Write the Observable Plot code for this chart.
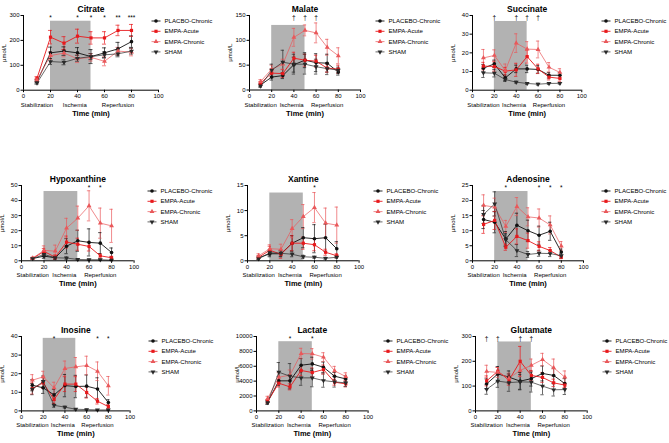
<!DOCTYPE html>
<html><head><meta charset="utf-8">
<script src="https://cdn.jsdelivr.net/npm/d3@7"></script>
<script src="https://cdn.jsdelivr.net/npm/@observablehq/plot@0.6"></script>
<style>
body{margin:0;background:#fff;font-family:"Liberation Sans",Arial,sans-serif;}
#wrap{position:relative;width:669px;height:443px;overflow:hidden;background:#fff;}
.panel{position:absolute;}
.legend{position:absolute;}
</style></head><body><div id="wrap"></div>
<script>
// ---------- shared categories / ticks ----------
const times = [10, 20, 30, 40, 50, 60, 70, 80];
const seriesNames = ["PLACEBO-Chronic", "EMPA-Acute", "EMPA-Chronic", "SHAM"];
const citrateLegendLabels = ["PLACBO-Chronic", "EMPA-Acute", "EMPA-Chronic", "SHAM"];
const xTicks = [0, 20, 40, 60, 80, 100];
const phaseLabels = ["Stabilization", "Ischemia", "Reperfusion"];
const phaseCenters = [10, 38, 70];
const ischemiaWindow = [20, 50];

// ---------- values (rows: PLACEBO-Chronic, EMPA-Acute, EMPA-Chronic, SHAM) ----------
const citrateMeans = [
  [35, 150, 157, 150, 135, 150, 166, 195],
  [48, 213, 189, 217, 210, 210, 240, 240],
  [41, 139, 149, 126, 132, 116, 157, 153],
  [29, 115, 112, 128, 135, 142, 146, 157]];
const citrateErr = [
  [6, 23, 17, 21, 28, 20, 26, 23],
  [6, 27, 26, 28, 25, 25, 21, 24],
  [5, 15, 15, 15, 15, 18, 15, 15],
  [5, 12, 10, 12, 12, 12, 12, 12]];
const citrateYTicks = [0, 100, 200, 300];
const citrateSig = [[20, "*"], [40, "*"], [50, "*"], [60, "*"], [70, "**"], [80, "***"]];

const malateMeans = [
  [10, 26, 29, 51, 60, 55, 54, 36],
  [14, 34, 33, 64, 60, 58, 44, 42],
  [17, 42, 52, 106, 120, 115, 86, 69],
  [8, 40, 56, 52, 52, 47, 43, 40]];
const malateErr = [
  [3, 6, 6, 15, 15, 18, 18, 6],
  [3, 8, 8, 12, 12, 12, 8, 8],
  [4, 8, 10, 18, 11, 20, 16, 16],
  [3, 12, 24, 20, 20, 15, 12, 6]];
const malateYTicks = [0, 50, 100, 150];
const malateSig = [[40, "†"], [50, "†"], [60, "†"]];

const succinateMeans = [
  [11.8, 14.1, 6.6, 11.4, 11.4, 11.1, 8, 8],
  [12.9, 12.7, 10.2, 10.9, 18, 11.4, 7, 6.3],
  [17.3, 18.6, 10.5, 25.2, 22, 21.8, 12.3, 9.5],
  [9.3, 9.1, 5.7, 4.3, 3.6, 3.2, 3.6, 3.7]];
const succinateErr = [
  [2, 2, 1.5, 2, 2, 2, 1.5, 1.5],
  [2, 2.5, 2, 3.5, 3.5, 2.5, 1.5, 1.5],
  [4.5, 3, 3.5, 5, 4, 4.5, 2.5, 2],
  [2.5, 2, 1, 0.5, 0.5, 0.5, 0.5, 0.5]];
const succinateYTicks = [0, 10, 20, 30, 40];
const succinateSig = [[20, "†"], [40, "†"], [50, "†"], [60, "†"]];

const hypoxanthineMeans = [
  [1.5, 3.1, 2, 9.7, 13.3, 12.2, 11.7, 5.5],
  [1.6, 6.2, 2.4, 12.4, 11, 9.5, 3.3, 2],
  [1.8, 6.9, 6.4, 21.7, 28.3, 36.5, 25, 23.2],
  [1.5, 4.2, 2, 1.8, 0.9, 0.7, 0.7, 0.4]];
const hypoxanthineErr = [
  [0.5, 1.5, 1, 5, 7, 9, 7, 3],
  [0.5, 2, 1.5, 4, 4, 3, 1.5, 1],
  [0.5, 3, 4, 6.5, 8, 10, 10, 11],
  [0.3, 1.5, 0.8, 0.8, 0.4, 0.3, 0.3, 0.2]];
const hypoxanthineYTicks = [0, 10, 20, 30, 40, 50];
const hypoxanthineSig = [[60, "*"], [70, "*"]];

const xantineMeans = [
  [0.6, 1.4, 1.4, 3.5, 4.6, 4.4, 4.6, 2.4],
  [0.7, 2.1, 1.3, 3.5, 3.5, 3.2, 1.7, 1.0],
  [1.0, 2.4, 2.3, 6.4, 8.8, 10.6, 7.5, 7.1],
  [0.4, 1.6, 1.5, 1.3, 0.8, 0.7, 0.5, 0.7]];
const xantineErr = [
  [0.3, 0.6, 0.6, 1.5, 2, 2.8, 2.7, 1.4],
  [0.3, 0.8, 0.8, 1.5, 1.2, 1.2, 0.6, 0.4],
  [0.4, 0.8, 1, 1.8, 2.4, 3, 3, 3.6],
  [0.2, 0.6, 0.6, 0.5, 0.3, 0.2, 0.2, 0.2]];
const xantineYTicks = [0, 5, 10, 15];
const xantineSig = [[60, "*"]];

const adenosineMeans = [
  [13.7, 12.8, 7.2, 11.8, 10.0, 8.5, 9.8, 2.9],
  [12.1, 13.4, 4.5, 8.1, 6.7, 4.8, 3.4, 1.2],
  [18.4, 17.8, 11.4, 18.0, 14.6, 14.2, 11.9, 4.9],
  [15.4, 18.9, 7.0, 3.4, 2.1, 2.5, 2.4, 1.7]];
const adenosineErr = [
  [3, 3.5, 2.5, 4, 3.5, 3, 3, 1],
  [3, 3, 1, 2.5, 2.5, 1.5, 1, 0.5],
  [3.5, 3, 2, 3, 3, 3, 3, 1.5],
  [3, 4, 2, 2, 1, 1, 1, 0.8]];
const adenosineYTicks = [0, 5, 10, 15, 20, 25];
const adenosineSig = [[30, "*"], [60, "*"], [70, "*"], [80, "*"]];

const inosineMeans = [
  [13.8, 12.4, 8.6, 13.6, 13.1, 13.3, 11.8, 4.5],
  [12, 15.1, 6.1, 14.4, 14.4, 9.9, 5.2, 2.3],
  [16.5, 18.3, 12.4, 22.8, 23.7, 24.4, 21.3, 13.5],
  [11.7, 15.8, 3.0, 2.0, 0.9, 0.7, 0.5, 0.5]];
const inosineErr = [
  [3, 3, 3, 6, 6, 6, 6, 1.5],
  [3, 3, 2, 4, 4, 3, 1.5, 1],
  [3, 3, 3, 4, 5, 5, 5, 5],
  [3, 3, 1, 0.5, 0.3, 0.2, 0.2, 0.2]];
const inosineYTicks = [0, 10, 20, 30, 40];
const inosineSig = [[30, "*"], [70, "*"], [80, "*"]];

const lactateMeans = [
  [1170, 4040, 4040, 6140, 6320, 5870, 4660, 4300],
  [1300, 3720, 3230, 5430, 5160, 5560, 3860, 3630],
  [1660, 4530, 4800, 7710, 7670, 7220, 5380, 4620],
  [1120, 5200, 4660, 4440, 4440, 4080, 3900, 3770]];
const lactateErr = [
  [250, 600, 800, 900, 900, 700, 500, 400],
  [250, 500, 400, 700, 600, 600, 400, 400],
  [300, 600, 700, 700, 700, 600, 600, 500],
  [250, 1300, 1700, 1000, 1200, 900, 700, 500]];
const lactateYTicks = [0, 2000, 4000, 6000, 8000, 10000];
const lactateSig = [[30, "*"], [50, "*"]];

const glutamateMeans = [
  [109, 149, 136, 120, 130, 151, 143, 110],
  [121, 160, 124, 200, 143, 135, 113, 104],
  [159, 155, 132, 163, 184, 207, 174, 136],
  [87, 120, 114, 117, 116, 100, 85, 86]];
const glutamateErr = [
  [20, 30, 25, 35, 30, 30, 30, 20],
  [20, 15, 20, 60, 20, 20, 15, 10],
  [25, 20, 20, 25, 25, 25, 35, 25],
  [20, 25, 35, 30, 40, 35, 25, 20]];
const glutamateYTicks = [0, 100, 200, 300];
const glutamateSig = [[10, "†"], [20, "†"], [40, "†"], [50, "†"]];

const ischemiaTops = [277, 130, 36.8, 46, 13.5, 23, 39, 9300, 278];

// ---------- panels ----------
const panels = [
  {title: "Citrate", means: citrateMeans, errs: citrateErr, yTicks: citrateYTicks, sig: citrateSig, legend: citrateLegendLabels},
  {title: "Malate", means: malateMeans, errs: malateErr, yTicks: malateYTicks, sig: malateSig, legend: seriesNames},
  {title: "Succinate", means: succinateMeans, errs: succinateErr, yTicks: succinateYTicks, sig: succinateSig, legend: seriesNames},
  {title: "Hypoxanthine", means: hypoxanthineMeans, errs: hypoxanthineErr, yTicks: hypoxanthineYTicks, sig: hypoxanthineSig, legend: seriesNames},
  {title: "Xantine", means: xantineMeans, errs: xantineErr, yTicks: xantineYTicks, sig: xantineSig, legend: seriesNames},
  {title: "Adenosine", means: adenosineMeans, errs: adenosineErr, yTicks: adenosineYTicks, sig: adenosineSig, legend: seriesNames},
  {title: "Inosine", means: inosineMeans, errs: inosineErr, yTicks: inosineYTicks, sig: inosineSig, legend: seriesNames},
  {title: "Lactate", means: lactateMeans, errs: lactateErr, yTicks: lactateYTicks, sig: lactateSig, legend: seriesNames},
  {title: "Glutamate", means: glutamateMeans, errs: glutamateErr, yTicks: glutamateYTicks, sig: glutamateSig, legend: seriesNames}
];

// layout (pixel positions of each plot frame and legend)
const layout = [
  {x0: 22.7, x1: 157.7, yT: 15, yB: 89.7, lx: 156, ly: 20.7},
  {x0: 249, x1: 360, yT: 15, yB: 89.5, lx: 380, ly: 20.5},
  {x0: 471.7, x1: 581, yT: 15, yB: 89.7, lx: 606, ly: 20.5},
  {x0: 20.7, x1: 133.3, yT: 185, yB: 260.3, lx: 152, ly: 190.7},
  {x0: 246.7, x1: 358.3, yT: 185, yB: 260.3, lx: 378, ly: 190.7},
  {x0: 472.3, x1: 583.3, yT: 185, yB: 260.3, lx: 605.5, ly: 190.7},
  {x0: 20.7, x1: 129.3, yT: 336.3, yB: 410.7, lx: 153, ly: 341},
  {x0: 255.7, x1: 367.3, yT: 336.3, yB: 410.7, lx: 388, ly: 341},
  {x0: 475, x1: 586.7, yT: 336.3, yB: 410.7, lx: 607, ly: 341}
];

const seriesColors = ["#111111", "#e8191c", "#e9585a", "#2a2a2a"];
const sqrt3 = Math.sqrt(3);
const triangleDown = {
  draw(context, size) {
    const y = -Math.sqrt(size / (sqrt3 * 3));
    context.moveTo(0, -y * 2);
    context.lineTo(-sqrt3 * y, y);
    context.lineTo(sqrt3 * y, y);
    context.closePath();
  }
};
const seriesSymbols = ["circle", "square", "triangle", triangleDown];
const lineWidths = [0.9, 0.9, 0.7, 0.7];
const FONT = "'Liberation Sans', Arial, Helvetica, sans-serif";

const wrap = document.getElementById("wrap");
const ml = 30, mr = 4, mt = 16, mb = 32;

panels.forEach((P, pi) => {
  const L = layout[pi];
  const ymax = P.yTicks[P.yTicks.length - 1];
  const rows = [];
  seriesNames.forEach((s, i) => times.forEach((t, j) => rows.push({series: s, si: i, x: t, y: P.means[i][j], e: P.errs[i][j]})));
  const cap = 1.5;
  const w = (L.x1 - L.x0) + ml + mr;
  const h = (L.yB - L.yT) + mt + mb;
  const plot = Plot.plot({
    width: w, height: h,
    marginLeft: ml, marginRight: mr, marginTop: mt, marginBottom: mb,
    style: {fontFamily: FONT, fontSize: "6px", color: "#000", background: "transparent", overflow: "visible"},
    x: {domain: [0, 100], ticks: xTicks, tickSize: 2.5, tickPadding: 1.5, label: null},
    y: {domain: [0, ymax], ticks: P.yTicks, tickSize: 2.5, tickPadding: 1.5, label: null, tickFormat: d => String(d)},
    color: {domain: seriesNames, range: seriesColors},
    symbol: {domain: seriesNames, range: seriesSymbols},
    marks: [
      Plot.rect([ischemiaWindow], {x1: d => d[0], x2: d => d[1], y1: () => 0, y2: () => ischemiaTops[pi], fill: "#b2b2b2"}),
      Plot.ruleX(rows, {x: "x", y1: d => Math.max(0, d.y - d.e), y2: d => d.y + d.e, stroke: "series", strokeWidth: 0.7}),
      Plot.ruleY(rows, {y: d => d.y + d.e, x1: d => d.x - cap, x2: d => d.x + cap, stroke: "series", strokeWidth: 0.7}),
      Plot.ruleY(rows.filter(d => d.y - d.e > 0), {y: d => d.y - d.e, x1: d => d.x - cap, x2: d => d.x + cap, stroke: "series", strokeWidth: 0.7}),
      ...seriesNames.map((s, i) => Plot.line(rows.filter(d => d.si === i), {x: "x", y: "y", stroke: "series", strokeWidth: lineWidths[i]})),
      Plot.dot(rows, {x: "x", y: "y", fill: "series", symbol: "series", r: 1.8}),
      Plot.ruleY([0], {stroke: "#000", strokeWidth: 1}),
      Plot.ruleX([0], {stroke: "#000", strokeWidth: 1}),
      Plot.text(P.sig, {x: d => d[0], y: () => ymax, text: d => d[1], dy: 2, fontSize: 6.5, fill: "#000"}),
      Plot.text(phaseLabels, {x: (d, i) => phaseCenters[i], frameAnchor: "bottom", text: d => d, dy: 16.5, fontSize: 6, fill: "#000"}),
      Plot.text(["Time (min)"], {frameAnchor: "bottom", text: d => d, dy: 25.5, fontSize: 7.5, fontWeight: "bold", fill: "#000"}),
      Plot.text([P.title], {frameAnchor: "top", text: d => d, dy: -10, fontSize: 8.5, fontWeight: "bold", fill: "#000"}),
      Plot.text(["µmol/L"], {frameAnchor: "left", text: d => d, dx: -19, rotate: -90, textAnchor: "middle", fontSize: 6, fill: "#000"})
    ]
  });
  const div = document.createElement("div");
  div.className = "panel";
  div.style.left = (L.x0 - ml) + "px";
  div.style.top = (L.yT - mt) + "px";
  div.appendChild(plot);
  wrap.appendChild(div);

  // legend
  const legW = 80, rowH = 10.3;
  const leg = d3.create("svg").attr("width", legW).attr("height", rowH * 4 + 4)
    .style("position", "absolute").style("left", (L.lx - 6) + "px").style("top", (L.ly - 4) + "px")
    .style("overflow", "visible");
  seriesNames.forEach((s, i) => {
    const g = leg.append("g").attr("transform", `translate(6,${4 + i * rowH})`);
    g.append("line").attr("x1", -4.5).attr("x2", 4.5).attr("y1", 0).attr("y2", 0)
      .attr("stroke", seriesColors[i]).attr("stroke-width", lineWidths[i]);
    const sym = typeof seriesSymbols[i] === "string"
      ? {circle: d3.symbolCircle, square: d3.symbolSquare, triangle: d3.symbolTriangle}[seriesSymbols[i]]
      : seriesSymbols[i];
    g.append("path").attr("d", d3.symbol(sym, Math.PI * 3.24)())
      .attr("fill", seriesColors[i]);
    g.append("text").attr("x", 8.5).attr("y", 0).attr("dy", "0.34em")
      .attr("font-family", FONT).attr("font-size", 6.1).attr("fill", "#000").text(P.legend[i]);
  });
  wrap.appendChild(leg.node());
});
</script></body></html>
